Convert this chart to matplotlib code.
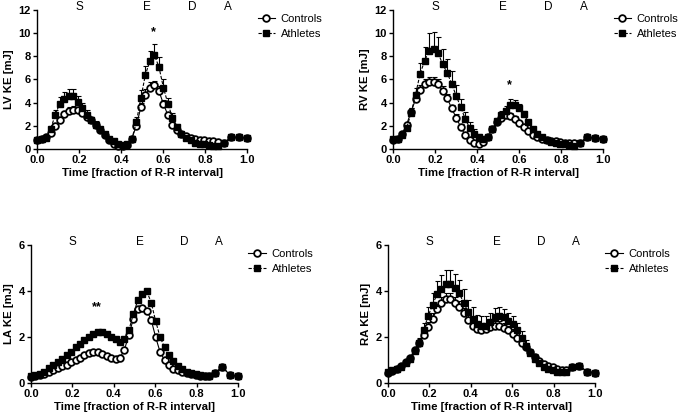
import matplotlib
matplotlib.use("Agg")
import matplotlib.pyplot as plt
import matplotlib.transforms as mtransforms

plt.rcParams["font.family"] = ["Liberation Sans", "DejaVu Sans"]

# sample times (fraction of R-R interval)
TIME = [0.0, 0.0215, 0.043, 0.0645, 0.086, 0.1075, 0.129, 0.1505, 0.172, 0.1935,
        0.215, 0.2365, 0.258, 0.2795, 0.301, 0.3225, 0.344, 0.3655, 0.387, 0.4085,
        0.43, 0.4515, 0.473, 0.4945, 0.516, 0.5375, 0.559, 0.5805, 0.602, 0.6235,
        0.645, 0.6665, 0.688, 0.7095, 0.731, 0.7525, 0.774, 0.7955, 0.817, 0.8385,
        0.86]
TAIL_TIME = [0.89, 0.925, 0.96, 1.0]

PHASES = ["S", "E", "D", "A"]
PHASE_X = [0.2, 0.525, 0.74, 0.91]

LV_CTRL = [0.8, 0.85, 1.0, 1.4, 2.0, 2.5, 3.0, 3.3, 3.4, 3.35,
           3.1, 2.8, 2.5, 2.1, 1.6, 1.2, 0.75, 0.45, 0.3, 0.25,
           0.35, 0.9, 2.0, 3.6, 4.7, 5.3, 5.5, 5.0, 3.9, 2.9,
           2.1, 1.6, 1.3, 1.1, 0.95, 0.85, 0.8, 0.75, 0.7, 0.65, 0.6]
LV_CTRL_SD = [0.1, 0.1, 0.1, 0.15, 0.2, 0.3, 0.3, 0.3, 0.3, 0.3,
              0.3, 0.3, 0.25, 0.2, 0.2, 0.15, 0.1, 0.1, 0.1, 0.1,
              0.1, 0.2, 0.3, 0.4, 0.5, 0.5, 0.4, 0.4, 0.3, 0.25,
              0.2, 0.15, 0.1, 0.1, 0.1, 0.1, 0.1, 0.1, 0.1, 0.1, 0.1]
LV_ATH = [0.8, 0.85, 0.95, 1.7, 2.9, 3.9, 4.3, 4.6, 4.6, 4.1,
          3.5, 2.95, 2.5, 2.1, 1.7, 1.3, 0.9, 0.65, 0.45, 0.35,
          0.4, 0.85, 2.3, 4.4, 6.4, 7.6, 8.1, 7.1, 5.3, 3.9,
          2.7, 1.9, 1.3, 0.95, 0.75, 0.55, 0.45, 0.4, 0.35, 0.3, 0.25]
LV_ATH_SD = [0.1, 0.1, 0.15, 0.3, 0.5, 0.6, 0.6, 0.6, 0.6, 0.5,
             0.5, 0.4, 0.3, 0.3, 0.2, 0.2, 0.15, 0.1, 0.1, 0.1,
             0.15, 0.3, 0.5, 0.7, 0.8, 0.9, 1.0, 0.8, 0.7, 0.5,
             0.4, 0.3, 0.2, 0.15, 0.1, 0.1, 0.1, 0.1, 0.1, 0.1, 0.1]
LV_TAIL = [0.55, 1.0, 1.0, 0.95]

RV_CTRL = [0.8, 0.9, 1.3, 2.1, 3.2, 4.3, 5.1, 5.6, 5.8, 5.8,
           5.6, 5.0, 4.4, 3.5, 2.7, 1.9, 1.2, 0.75, 0.5, 0.45,
           0.6, 1.0, 1.7, 2.3, 2.7, 2.9, 2.85, 2.6, 2.25, 1.9,
           1.55, 1.25, 1.0, 0.85, 0.75, 0.7, 0.65, 0.6, 0.55, 0.5, 0.5]
RV_CTRL_SD = [0.1, 0.1, 0.15, 0.2, 0.3, 0.35, 0.4, 0.4, 0.4, 0.4,
              0.4, 0.4, 0.35, 0.3, 0.3, 0.25, 0.2, 0.15, 0.1, 0.1,
              0.1, 0.15, 0.2, 0.25, 0.3, 0.3, 0.3, 0.25, 0.2, 0.2,
              0.15, 0.1, 0.1, 0.1, 0.1, 0.1, 0.1, 0.1, 0.1, 0.1, 0.1]
RV_ATH = [0.85, 0.9, 1.2, 1.8, 3.1, 4.7, 6.5, 7.6, 8.5, 8.6,
          8.3, 7.3, 6.6, 5.6, 4.6, 3.6, 2.6, 1.8, 1.3, 1.0,
          0.85, 1.0, 1.7, 2.4, 2.9, 3.3, 3.8, 3.8, 3.5, 3.0,
          2.3, 1.7, 1.3, 1.0, 0.8, 0.6, 0.5, 0.45, 0.4, 0.35, 0.3]
RV_ATH_SD = [0.1, 0.1, 0.15, 0.3, 0.4, 0.6, 0.9, 1.2, 1.5, 1.5,
             1.4, 1.3, 1.2, 1.1, 0.9, 0.7, 0.6, 0.5, 0.4, 0.3,
             0.2, 0.2, 0.3, 0.3, 0.4, 0.4, 0.5, 0.4, 0.4, 0.3,
             0.2, 0.15, 0.1, 0.1, 0.1, 0.1, 0.1, 0.1, 0.1, 0.1, 0.1]
RV_TAIL = [0.55, 1.0, 0.95, 0.9]

LA_CTRL = [0.25, 0.3, 0.35, 0.4, 0.5, 0.58, 0.65, 0.72, 0.8, 0.9,
           1.0, 1.1, 1.2, 1.3, 1.35, 1.33, 1.25, 1.18, 1.1, 1.05,
           1.1, 1.45, 2.1, 2.8, 3.2, 3.25, 3.15, 2.75, 2.0, 1.35,
           1.0, 0.78, 0.62, 0.55, 0.48, 0.42, 0.38, 0.35, 0.32, 0.3, 0.3]
LA_ATH = [0.3, 0.35, 0.4, 0.5, 0.65, 0.78, 0.9, 1.05, 1.2, 1.35,
          1.55, 1.7, 1.85, 2.0, 2.15, 2.2, 2.2, 2.15, 2.0, 1.9,
          1.8, 1.9, 2.3, 3.0, 3.6, 3.85, 4.0, 3.5, 2.7, 2.0,
          1.55, 1.2, 0.95, 0.75, 0.6, 0.5, 0.45, 0.4, 0.35, 0.3, 0.3]
LA_TAIL = [0.45, 0.7, 0.35, 0.3]

RA_CTRL = [0.45, 0.52, 0.6, 0.72, 0.9, 1.1, 1.45, 1.75, 2.1, 2.45,
           2.8, 3.2, 3.5, 3.65, 3.65, 3.5, 3.3, 3.05, 2.75, 2.5,
           2.35, 2.3, 2.35, 2.45, 2.5, 2.48, 2.4, 2.3, 2.15, 1.95,
           1.75, 1.55, 1.35, 1.15, 0.95, 0.82, 0.75, 0.68, 0.62, 0.58, 0.55]
RA_CTRL_SD = [0.05, 0.05, 0.05, 0.05, 0.1, 0.1, 0.1, 0.15, 0.2, 0.2,
              0.25, 0.25, 0.25, 0.25, 0.25, 0.25, 0.25, 0.2, 0.2, 0.2,
              0.2, 0.2, 0.2, 0.2, 0.2, 0.2, 0.2, 0.2, 0.2, 0.15,
              0.15, 0.15, 0.1, 0.1, 0.1, 0.05, 0.05, 0.05, 0.05, 0.05, 0.05]
RA_ATH = [0.5, 0.55, 0.6, 0.7, 0.85, 1.05, 1.4, 1.75, 2.3, 2.9,
          3.4, 3.85, 4.1, 4.3, 4.3, 4.15, 3.9, 3.5, 3.1, 2.8,
          2.55, 2.5, 2.5, 2.65, 2.85, 2.9, 2.85, 2.7, 2.55, 2.3,
          1.95, 1.6, 1.3, 1.05, 0.85, 0.7, 0.6, 0.55, 0.5, 0.5, 0.5]
RA_ATH_SD = [0.05, 0.05, 0.05, 0.05, 0.1, 0.1, 0.15, 0.2, 0.3, 0.4,
             0.5, 0.6, 0.6, 0.6, 0.6, 0.6, 0.6, 0.6, 0.5, 0.5,
             0.4, 0.4, 0.4, 0.4, 0.4, 0.4, 0.35, 0.35, 0.35, 0.3,
             0.3, 0.25, 0.2, 0.15, 0.1, 0.1, 0.05, 0.05, 0.05, 0.05, 0.05]
RA_TAIL = [0.7, 0.75, 0.5, 0.45]

W, H = 685, 418
fig = plt.figure(figsize=(W / 100, H / 100), dpi=100)


def panel(rect, ylabel, ymax, yticks, ctrl, ctrl_sd, ath, ath_sd, tail,
          star=None, legend_at=(1.05, 0.97)):
    l, t, r, b = rect  # pixel box of the plot area
    ax = fig.add_axes([l / W, 1 - b / H, (r - l) / W, (b - t) / H])
    x = TIME + TAIL_TIME
    if ctrl_sd is not None:
        ax.errorbar(TIME, ctrl, yerr=[[0] * len(ctrl_sd), ctrl_sd], fmt="none",
                    ecolor="black", elinewidth=0.8, capsize=1.8, capthick=0.8, clip_on=False)
    hc, = ax.plot(x, ctrl + tail, "-", color="black", lw=0.8, marker="o", ms=4.8,
                  mfc="white", mec="black", mew=1.3, label="Controls", clip_on=False)
    if ath_sd is not None:
        ax.errorbar(TIME, ath, yerr=[[0] * len(ath_sd), ath_sd], fmt="none",
                    ecolor="black", elinewidth=0.8, capsize=1.8, capthick=0.8, clip_on=False)
    ha, = ax.plot(x, ath + tail, "--", color="black", lw=0.8, marker="s", ms=4.3,
                  mfc="black", mec="black", label="Athletes", clip_on=False,
                  dashes=(3, 1.5))
    ax.set_xlim(0, 1.0)
    ax.set_ylim(0, ymax)
    ax.set_xticks([0.0, 0.2, 0.4, 0.6, 0.8, 1.0])
    ax.set_xticklabels(["0.0", "0.2", "0.4", "0.6", "0.8", "1.0"])
    ax.set_yticks(yticks)
    ax.spines[["top", "right"]].set_visible(False)
    for s in ("left", "bottom"):
        ax.spines[s].set_linewidth(1.0)
    ax.tick_params(direction="out", length=3, width=1.0, labelsize=8, pad=1.5)
    for lab in ax.get_xticklabels() + ax.get_yticklabels():
        lab.set_fontweight("bold")
    ax.set_xlabel("Time [fraction of R-R interval]", fontsize=8.2, fontweight="bold", labelpad=2)
    ax.set_ylabel(ylabel, fontsize=8.2, fontweight="bold", labelpad=3)

    trans = mtransforms.blended_transform_factory(ax.transData, ax.transAxes)
    for name, px in zip(PHASES, PHASE_X):
        ax.text(px, 1.025, name, transform=trans, ha="center", va="center", fontsize=8.5)
    if star is not None:
        ax.text(star[0], star[1], star[2], ha="center", va="center",
                fontsize=9, fontweight="bold")

    ax.legend(handles=[hc, ha], loc="upper left", bbox_to_anchor=legend_at,
              frameon=False, fontsize=8, handlelength=1.6, handletextpad=0.5,
              labelspacing=0.45, borderaxespad=0, borderpad=0)
    return ax


panel((37, 10, 247, 149), "LV KE [mJ]", 12, [0, 2, 4, 6, 8, 10, 12],
      LV_CTRL, LV_CTRL_SD, LV_ATH, LV_ATH_SD, LV_TAIL,
      star=(0.555, 10.1, "*"))
panel((393, 10, 603, 149), "RV KE [mJ]", 12, [0, 2, 4, 6, 8, 10, 12],
      RV_CTRL, RV_CTRL_SD, RV_ATH, RV_ATH_SD, RV_TAIL,
      star=(0.556, 5.5, "*"))
panel((31, 245, 238, 383), "LA KE [mJ]", 6, [0, 2, 4, 6],
      LA_CTRL, None, LA_ATH, None, LA_TAIL,
      star=(0.318, 3.3, "**"))
panel((388, 245, 595, 383), "RA KE [mJ]", 6, [0, 2, 4, 6],
      RA_CTRL, RA_CTRL_SD, RA_ATH, RA_ATH_SD, RA_TAIL)

fig.savefig("out.png", dpi=100)
